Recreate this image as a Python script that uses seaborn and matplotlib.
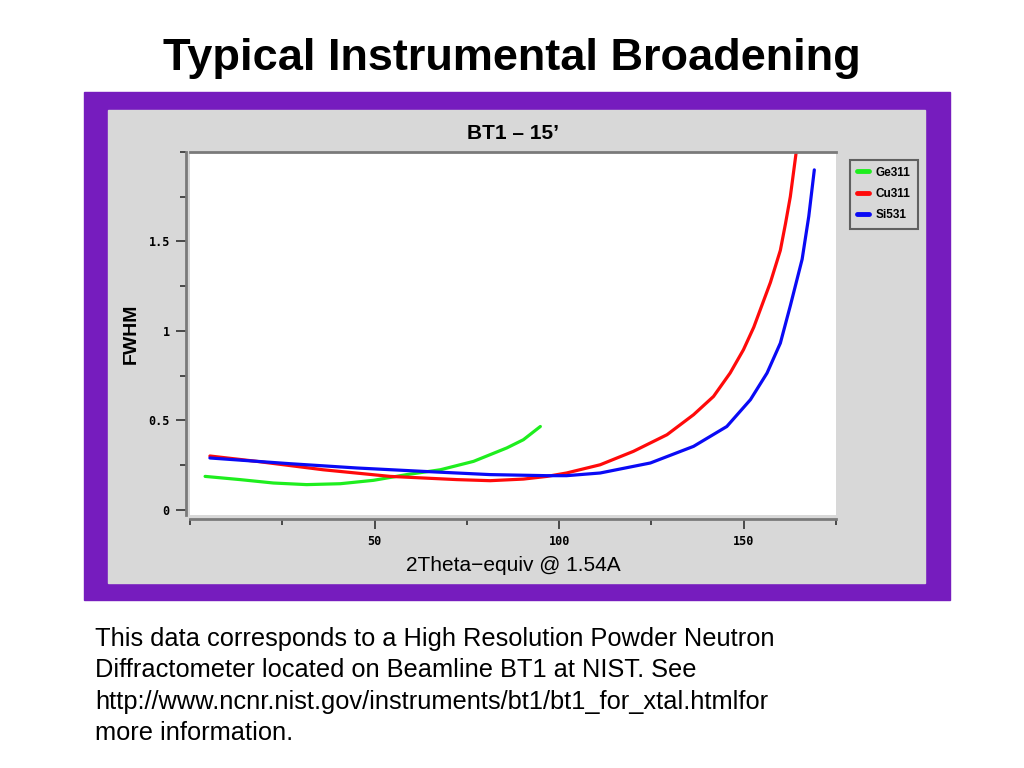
"""Typical Instrumental Broadening — BT1 FWHM curves (slide recreation)."""
import matplotlib
matplotlib.use("Agg")
import matplotlib.pyplot as plt
from matplotlib.patches import Rectangle
from matplotlib.ticker import MultipleLocator
import pandas as pd
import seaborn as sns

# --- data ---
ge_x = [4.1, 13.6, 22.6, 31.6, 40.7, 49.7, 58.7, 67.8, 76.8, 85.8, 90.3, 94.9]
ge_y = [0.186, 0.168, 0.149, 0.140, 0.145, 0.164, 0.196, 0.223, 0.270,
        0.345, 0.391, 0.465]

cu_x = [5.4, 18.1, 36.1, 54.2, 72.3, 81.3, 90.3, 96.7, 102, 111.1, 120.1,
        129.2, 136.4, 141.8, 146.3, 149.9, 152.7, 155.4, 157.2, 159.9, 161.3,
        162.6, 164.2]
cu_y = [0.30, 0.27, 0.223, 0.186, 0.168, 0.162, 0.171, 0.186, 0.205, 0.251,
        0.326, 0.419, 0.531, 0.633, 0.764, 0.894, 1.02, 1.17, 1.27, 1.45,
        1.60, 1.75, 2.0]

si_x = [5.4, 27.1, 45.2, 63.2, 81.3, 96.7, 102, 111.1, 124.7, 136.4, 145.4,
        151.8, 156.3, 159.9, 162.6, 165.8, 167.6, 169.1]
si_y = [0.289, 0.257, 0.233, 0.214, 0.196, 0.19, 0.19, 0.205, 0.261, 0.354,
        0.465, 0.615, 0.764, 0.931, 1.14, 1.40, 1.64, 1.9]

x_ticks = [50, 100, 150]
y_ticks = [0, 0.5, 1, 1.5]
x_ticklabels = ["50", "100", "150"]
y_ticklabels = ["0", "0.5", "1", "1.5"]

SERIES = ["Ge311", "Cu311", "Si531"]
COLORS = {"Ge311": "#1EEE1E", "Cu311": "#FF0A0A", "Si531": "#0A0AF5"}

PURPLE = "#761CBE"
PANEL = "#D8D8D8"
AXIS_GRAY = "#7A7A7A"

df = pd.concat(
    [
        pd.DataFrame({"x": ge_x, "y": ge_y, "crystal": "Ge311"}),
        pd.DataFrame({"x": cu_x, "y": cu_y, "crystal": "Cu311"}),
        pd.DataFrame({"x": si_x, "y": si_y, "crystal": "Si531"}),
    ],
    ignore_index=True,
)

sns.set_style("ticks")
plt.rcParams["font.family"] = ["Liberation Sans", "DejaVu Sans"]
plt.rcParams["text.color"] = "black"
plt.rcParams["axes.labelcolor"] = "black"
plt.rcParams["xtick.color"] = "#303030"
plt.rcParams["ytick.color"] = "#303030"
plt.rcParams["xtick.labelcolor"] = "black"
plt.rcParams["ytick.labelcolor"] = "black"

fig = plt.figure(figsize=(10.24, 7.68), dpi=100)
fig.patch.set_facecolor("white")

# purple frame + gray panel behind the plot
fig.add_artist(Rectangle((0.082, 0.2188), 0.8457, 0.6615,
                         transform=fig.transFigure, color=PURPLE, zorder=0))
fig.add_artist(Rectangle((0.1055, 0.2409), 0.798, 0.6159,
                         transform=fig.transFigure, color=PANEL, zorder=0))

ax = fig.add_axes([0.1855, 0.3294, 0.631, 0.4727])
ax.set_facecolor("white")

sns.lineplot(
    data=df, x="x", y="y", hue="crystal", hue_order=SERIES,
    palette=COLORS, sort=False, estimator=None, linewidth=2.3,
    legend=False, ax=ax,
)

ax.set_xlim(0, 175)
ax.set_ylim(-0.03, 2.0)
ax.tick_params(which="major", length=7.5, width=1.2, pad=4)
ax.tick_params(which="minor", length=4.5, width=1.2)
ax.xaxis.set_minor_locator(MultipleLocator(25))
ax.yaxis.set_minor_locator(MultipleLocator(0.25))
ax.set_xticks(x_ticks)
ax.set_xticklabels(x_ticklabels)
ax.set_yticks(y_ticks)
ax.set_yticklabels(y_ticklabels)

for side in ["left", "bottom"]:
    ax.spines[side].set_position(("outward", 3))
    ax.spines[side].set_color(AXIS_GRAY)
    ax.spines[side].set_linewidth(2)
ax.spines["top"].set_color(AXIS_GRAY)
ax.spines["top"].set_linewidth(2)
ax.spines["right"].set_visible(False)

ax.set_xlabel("2Theta\u2212equiv @ 1.54A", fontsize=15, labelpad=6)
ax.set_ylabel("FWHM", fontsize=14, fontweight="bold", labelpad=6)
ax.set_title("BT1 \u2013 15\u2019", fontsize=15, fontweight="bold", pad=9)

# legend box in the gray margin
handles = [plt.Line2D([], [], color=COLORS[s], lw=3.5) for s in SERIES]
leg = fig.legend(
    handles, SERIES, loc="upper left", bbox_to_anchor=(0.824, 0.8),
    bbox_transform=fig.transFigure, frameon=True, fancybox=False,
    handlelength=1.0, handletextpad=0.6, borderpad=0.6, labelspacing=0.8,
    prop={"weight": "bold", "size": 8.5},
)
leg.get_frame().set_facecolor(PANEL)
leg.get_frame().set_edgecolor("#606060")
leg.get_frame().set_linewidth(1.5)
leg.get_frame().set_alpha(1)

fig.text(0.5, 0.924, "Typical Instrumental Broadening", ha="center",
         va="center", fontsize=32.5, fontweight="bold")

caption = ("This data corresponds to a High Resolution Powder Neutron\n"
           "Diffractometer located on Beamline BT1 at NIST. See\n"
           "http://www.ncnr.nist.gov/instruments/bt1/bt1_for_xtal.htmlfor\n"
           "more information.")
fig.text(0.093, 0.183, caption, ha="left", va="top", fontsize=18.3,
         linespacing=1.37)

# tick label font: bold fixed-width, applied once ticks exist
fig.canvas.draw()
for lab in ax.get_xticklabels() + ax.get_yticklabels():
    lab.set_fontfamily(["DejaVu Sans Mono"])
    lab.set_fontweight("bold")
    lab.set_fontsize(8.5)

fig.savefig("out.png", dpi=100)
plt.close(fig)
